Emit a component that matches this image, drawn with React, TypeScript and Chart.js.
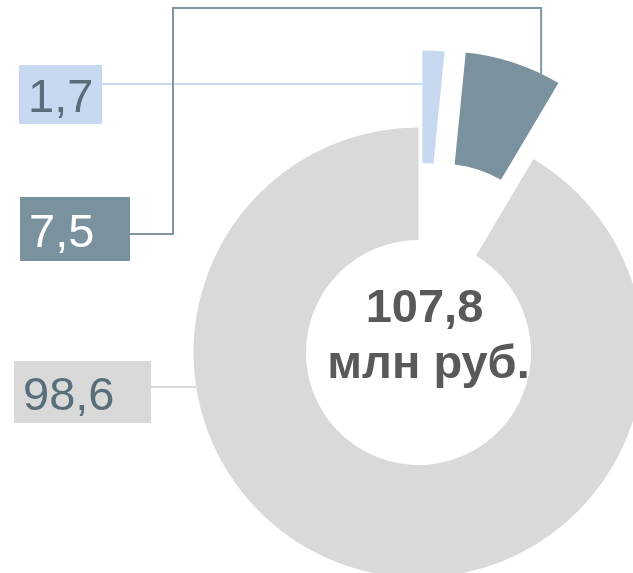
import React, { useEffect, useRef } from 'react';
import { Chart, registerables } from 'chart.js';

Chart.register(...registerables);

// ---- data ----
const categories = ['Сегмент 1', 'Сегмент 2', 'Сегмент 3'];
const values = [1.7, 7.5, 98.6];
const unitLabel = 'млн руб.';

// ---- styles ----
const sliceColors = ['#C6D9F1', '#7A929E', '#D9D9D9'];
const explodeDist = [77, 80, 0];
const labelBoxes = [
  { x: 19, y: 65, w: 83, h: 59, lineY: 84, fill: '#C6D9F1', text: '#596E7B', line: '#C6D9F1' },
  { x: 20, y: 197, w: 110, h: 64, lineY: 234, fill: '#7A929E', text: '#FFFFFF', line: '#8097A3' },
  { x: 14, y: 361, w: 137, h: 62, lineY: 387, fill: '#D9D9D9', text: '#596E7B', line: '#D9D9D9' },
];
const FONT = '"Liberation Sans", Arial, sans-serif';

const fmt = (v: number) => v.toFixed(1).replace('.', ',');

function arcGeom(chart: any, i: number) {
  const a = chart.getDatasetMeta(0).data[i];
  const p = a.getProps(['x', 'y', 'startAngle', 'endAngle', 'innerRadius', 'outerRadius'], true);
  const mid = (p.startAngle + p.endAngle) / 2;
  const d = explodeDist[i] || 0;
  return { ...p, cx: p.x + Math.cos(mid) * d, cy: p.y + Math.sin(mid) * d };
}

const explodePlugin = {
  id: 'explodeArcs',
  beforeDatasetDraw(chart: any, args: any) {
    const ctx = chart.ctx;
    args.meta.data.forEach((arc: any, i: number) => {
      const mid = (arc.startAngle + arc.endAngle) / 2;
      const d = explodeDist[i] || 0;
      ctx.save();
      ctx.translate(Math.cos(mid) * d, Math.sin(mid) * d);
      arc.draw(ctx);
      ctx.restore();
    });
    return false;
  },
};

const labelsPlugin = {
  id: 'calloutLabels',
  afterDraw(chart: any) {
    const ctx = chart.ctx;
    ctx.save();
    ctx.lineWidth = 2;

    // slice 0: horizontal line to the slice's start edge
    {
      const b = labelBoxes[0];
      const g = arcGeom(chart, 0);
      const a = g.startAngle;
      const r = (b.lineY - g.cy) / Math.sin(a);
      const ex = g.cx + r * Math.cos(a);
      ctx.strokeStyle = b.line;
      ctx.beginPath();
      ctx.moveTo(b.x + b.w, b.lineY);
      ctx.lineTo(ex, b.lineY);
      ctx.stroke();
    }
    // slice 1: elbow line over the top to the slice's outer arc
    {
      const b = labelBoxes[1];
      const g = arcGeom(chart, 1);
      const a = g.startAngle + 0.8 * (g.endAngle - g.startAngle);
      const px = g.cx + g.outerRadius * Math.cos(a);
      const py = g.cy + g.outerRadius * Math.sin(a);
      ctx.strokeStyle = b.line;
      ctx.beginPath();
      ctx.moveTo(b.x + b.w, b.lineY);
      ctx.lineTo(173, b.lineY);
      ctx.lineTo(173, 8);
      ctx.lineTo(px, 8);
      ctx.lineTo(px, py);
      ctx.stroke();
    }
    // slice 2: horizontal line to the outer arc on the left
    {
      const b = labelBoxes[2];
      const g = arcGeom(chart, 2);
      const dy = b.lineY - g.cy;
      const ex = g.cx - Math.sqrt(Math.max(g.outerRadius * g.outerRadius - dy * dy, 0));
      ctx.strokeStyle = b.line;
      ctx.beginPath();
      ctx.moveTo(b.x + b.w, b.lineY);
      ctx.lineTo(ex, b.lineY);
      ctx.stroke();
    }

    // label boxes
    ctx.font = `47px ${FONT}`;
    ctx.textAlign = 'left';
    ctx.textBaseline = 'alphabetic';
    values.forEach((v, i) => {
      const b = labelBoxes[i];
      ctx.fillStyle = b.fill;
      ctx.fillRect(b.x, b.y, b.w, b.h);
      ctx.fillStyle = b.text;
      ctx.fillText(fmt(v), b.x + 9, b.y + b.h / 2 + 17.5);
    });

    // center total
    const g = arcGeom(chart, 2);
    const total = values.reduce((s, v) => s + v, 0);
    ctx.fillStyle = '#595959';
    ctx.textAlign = 'center';
    ctx.font = `bold 47px ${FONT}`;
    ctx.fillText(fmt(total), g.x + 6, g.y - 31);
    ctx.fillText(unitLabel, g.x + 10, g.y + 25.5);
    ctx.restore();
  },
};

export default function App() {
  const ref = useRef<HTMLCanvasElement>(null);
  useEffect(() => {
    const chart = new Chart(ref.current as HTMLCanvasElement, {
      type: 'doughnut',
      data: {
        labels: categories,
        datasets: [
          {
            data: values,
            backgroundColor: sliceColors,
            borderWidth: 0,
            clip: false as any,
          },
        ],
      },
      options: {
        responsive: true,
        maintainAspectRatio: false,
        animation: false,
        events: [],
        radius: 225,
        cutout: '50%',
        rotation: 0,
        layout: { padding: { left: 204, top: 132, right: 0, bottom: 0 } },
        plugins: {
          legend: { display: false },
          tooltip: { enabled: false },
        },
      } as any,
      plugins: [explodePlugin, labelsPlugin],
    });
    return () => chart.destroy();
  }, []);
  return (
    <div style={{ position: 'absolute', left: 0, top: 0, width: 633, height: 573, background: '#fff' }}>
      <canvas ref={ref} />
    </div>
  );
}
